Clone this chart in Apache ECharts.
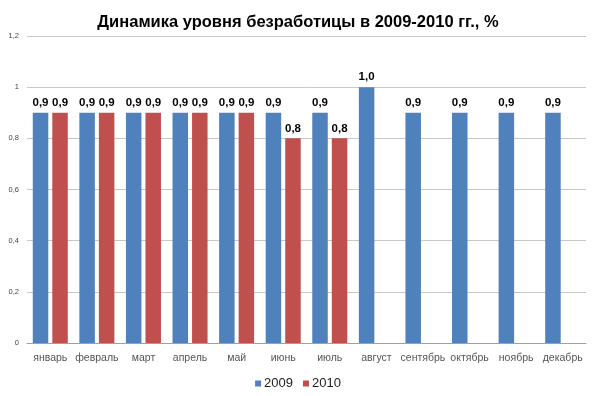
<!DOCTYPE html>
<html><head><meta charset="utf-8">
<script src="https://cdn.jsdelivr.net/npm/echarts@6/dist/echarts.min.js"></script>
<style>html,body{margin:0;padding:0;background:#fff}#c{width:596px;height:396px}</style>
</head><body><div id="c"></div>
<script>
const categories = ['январь','февраль','март','апрель','май','июнь','июль','август','сентябрь','октябрь','ноябрь','декабрь'];
const values2009 = [0.9,0.9,0.9,0.9,0.9,0.9,0.9,1.0,0.9,0.9,0.9,0.9];
const values2010 = [0.9,0.9,0.9,0.9,0.9,0.8,0.8,null,null,null,null,null];
const yTicks = ['0','0,2','0,4','0,6','0,8','1','1,2'];
const fmt = v => v.toFixed(1).replace('.', ',');
const chart = echarts.init(document.getElementById('c'));
const lbl = {show:true, position:'top', distance:4, fontFamily:'Liberation Sans', fontWeight:'bold', fontSize:11.5, color:'#000', formatter:p=>fmt(p.value)};
chart.setOption({
  animation:false,
  title:{text:'Динамика уровня безработицы в 2009-2010 гг., %', left:'center', top:9,
    textStyle:{fontFamily:'Liberation Sans', fontWeight:'bold', fontSize:16.5, color:'#000'}},
  grid:{left:27, right:10, top:36, bottom:53},
  legend:{top:372, left:'center', itemWidth:6, itemHeight:6, itemGap:10, icon:'rect',
    textStyle:{fontFamily:'Liberation Sans', fontSize:13, color:'#222', padding:[0,0,0,-2]}},
  xAxis:{type:'category', data:categories, axisTick:{show:false},
    axisLine:{lineStyle:{color:'#a0a0a0'}},
    axisLabel:{fontFamily:'Liberation Sans', fontSize:10.5, color:'#555', margin:10, interval:0}},
  yAxis:{type:'value', min:0, max:1.2, interval:0.2,
    axisLabel:{fontFamily:'Liberation Sans', fontSize:7.5, color:'#444', margin:8,
      formatter:v=>yTicks[Math.round(v/0.2)]},
    splitLine:{lineStyle:{color:'#c8c8c8'}}, axisLine:{show:false}, axisTick:{show:false}},
  series:[
    {name:'2009', type:'bar', data:values2009, itemStyle:{color:'#4f81bd'}, barWidth:15.5, barGap:'26%', label:lbl},
    {name:'2010', type:'bar', data:values2010, itemStyle:{color:'#c0504d'}, barWidth:15.5, barGap:'26%', label:lbl}
  ]
});
</script></body></html>
